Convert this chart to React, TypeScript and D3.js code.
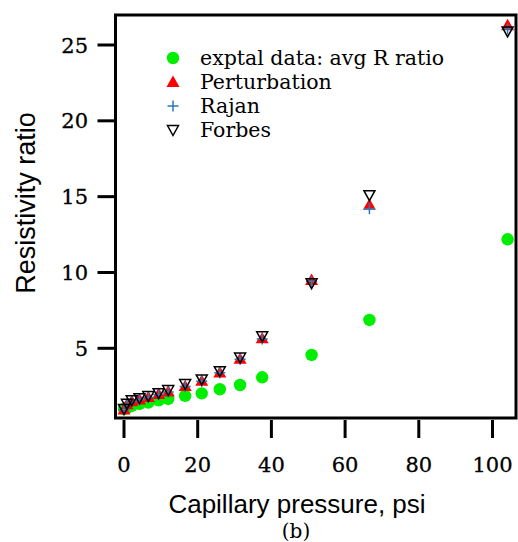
import React from "react";
import * as d3 from "d3";

const pressure = [0, 0.8, 2.1, 4.2, 6.6, 9.4, 12.0, 16.6, 21.1, 26.0, 31.5, 37.5, 50.9, 66.6, 104.1];
const exptal = [1.0, 1.08, 1.2, 1.33, 1.42, 1.57, 1.66, 1.86, 2.03, 2.3, 2.58, 3.09, 4.56, 6.87, 12.19];
const perturbation = [0.95, 1.3, 1.5, 1.62, 1.78, 1.98, 2.15, 2.5, 2.85, 3.4, 4.3, 5.65, 9.5, 14.45, 26.3];
const rajan = [0.95, 1.28, 1.48, 1.6, 1.76, 1.95, 2.12, 2.48, 2.82, 3.38, 4.28, 5.62, 9.4, 14.2, 26.05];
const forbes = [1.0, 1.35, 1.58, 1.72, 1.86, 2.05, 2.25, 2.65, 2.95, 3.5, 4.4, 5.8, 9.3, 15.1, 25.9];

const xTicks = [0, 20, 40, 60, 80, 100];
const yTicks = [5, 10, 15, 20, 25];
const legendLabels = ["exptal data: avg R ratio", "Perturbation", "Rajan", "Forbes"];

const GREEN = "#00ee00";
const RED = "#ff0000";
const BLUE = "#2a7ab8";
const SERIF = "'DejaVu Serif', serif";
const SANS = "'Liberation Sans', Arial, Helvetica, sans-serif";

const frame = { left: 115.5, right: 516, top: 15, bottom: 418 };

function Marker({ kind, x, y }: { kind: number; x: number; y: number }) {
  if (kind === 0) return <circle cx={x} cy={y} r={6.2} fill={GREEN} />;
  if (kind === 1) {
    const s = 6.5;
    return <path d={`M${x},${y - s} L${x + s},${y + s * 0.75} L${x - s},${y + s * 0.75} Z`} fill={RED} />;
  }
  if (kind === 2) {
    const s = 5.5;
    return (
      <path d={`M${x - s},${y} L${x + s},${y} M${x},${y - s} L${x},${y + s}`} stroke={BLUE} strokeWidth={1.5} fill="none" />
    );
  }
  const s = 5.5;
  return (
    <path d={`M${x - s},${y - s * 0.8} L${x + s},${y - s * 0.8} L${x},${y + s} Z`} stroke="#000" strokeWidth={1.5} fill="none" />
  );
}

export default function App() {
  const x = d3.scaleLinear().domain([0, 100]).range([124, 492.5]);
  const y = d3.scaleLinear().domain([5, 25]).range([348.3, 45]);
  const series = [exptal, perturbation, rajan, forbes];

  return (
    <svg width={518} height={542} style={{ position: "absolute", left: 0, top: 0, background: "#fff" }}>
      <rect x={0} y={0} width={518} height={542} fill="#fff" />
      {series.map((vals, si) => (
        <g key={si}>
          {vals.map((v, i) => (
            <Marker key={i} kind={si} x={x(pressure[i])} y={y(v)} />
          ))}
        </g>
      ))}
      <rect
        x={frame.left}
        y={frame.top}
        width={frame.right - frame.left}
        height={frame.bottom - frame.top}
        fill="none"
        stroke="#000"
        strokeWidth={3}
      />
      {xTicks.map((t) => (
        <g key={t}>
          <line x1={x(t)} x2={x(t)} y1={frame.bottom + 2} y2={frame.bottom + 20} stroke="#000" strokeWidth={3} />
          <text x={x(t)} y={472} textAnchor="middle" style={{ fontFamily: SERIF }} fontSize={21} stroke="#000" strokeWidth={0.3}>
            {t}
          </text>
        </g>
      ))}
      {yTicks.map((t) => (
        <g key={t}>
          <line x1={frame.left - 18} x2={frame.left} y1={y(t)} y2={y(t)} stroke="#000" strokeWidth={3} />
          <text x={88} y={y(t)} dy="0.36em" textAnchor="end" style={{ fontFamily: SERIF }} fontSize={21} stroke="#000" strokeWidth={0.3}>
            {t}
          </text>
        </g>
      ))}
      {legendLabels.map((lab, i) => (
        <g key={lab}>
          <Marker kind={i} x={173} y={58 + i * 24} />
          <text x={200} y={65 + i * 24} style={{ fontFamily: SERIF }} fontSize={20.5} fill="#000">
            {lab}
          </text>
        </g>
      ))}
      <text
        transform="translate(35,203) rotate(-90)"
        textAnchor="middle"
        style={{ fontFamily: SANS }}
        fontSize={27}
        fill="#000"
      >
        Resistivity ratio
      </text>
      <text x={297} y={513} textAnchor="middle" style={{ fontFamily: SANS }} fontSize={26} fill="#000">
        Capillary pressure, psi
      </text>
      <text x={296} y={538} textAnchor="middle" style={{ fontFamily: SERIF }} fontSize={20} fill="#000">
        (b)
      </text>
    </svg>
  );
}
